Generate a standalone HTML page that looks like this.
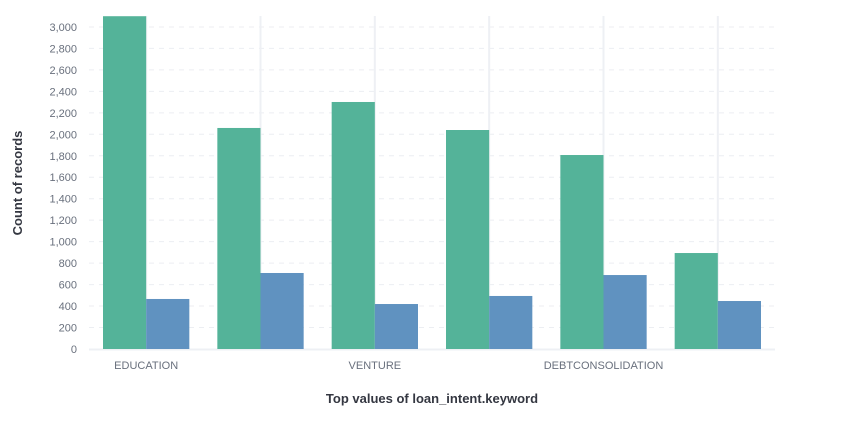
<!DOCTYPE html>
<html><head><meta charset="utf-8"><style>
body{margin:0;background:#fff;font-family:"Liberation Sans",sans-serif}
svg text{font-family:"Liberation Sans",sans-serif}
</style></head><body>
<svg id="chart" width="847" height="416" xmlns="http://www.w3.org/2000/svg"></svg>
<script>
const categories=["EDUCATION","MEDICAL","VENTURE","PERSONAL","DEBTCONSOLIDATION","HOMEIMPROVEMENT"];
const showLabel=[true,false,true,false,true,false];
const seriesA=[3100,2059,2301,2040,1807,894];
const seriesB=[466,708,419,494,689,447];
const yTicks=[0,200,400,600,800,1000,1200,1400,1600,1800,2000,2200,2400,2600,2800,3000];
const NS="http://www.w3.org/2000/svg";
const svg=document.getElementById('chart');
const L=89,R=775,T=16,B=349,yMax=3102;
const y=v=>B-(Math.min(v,yMax)/yMax)*(B-T);
const bw=(R-L)/categories.length;
const x=i=>L+i*bw;
function mk(t,a,p){const e=document.createElementNS(NS,t);for(const k in a)e.setAttribute(k,a[k]);(p||svg).appendChild(e);return e;}
yTicks.forEach(v=>{
  if(v>0){const g=mk('line',{x1:L,x2:R,y1:y(v),y2:y(v),stroke:'#eceef2','stroke-dasharray':'5,5'});
  
  }
  const t=mk('text',{x:77,y:y(v)+4,'text-anchor':'end','font-size':'11',fill:'#69707d'});t.textContent=v.toLocaleString('en-US');
  
  
});
categories.forEach((c,i)=>{
  const cx=x(i)+bw/2;
  const g=mk('line',{x1:cx,x2:cx,y1:T,y2:B,stroke:'#eef0f4','stroke-width':2});
  
  
});
const base=mk('line',{x1:L,x2:R,y1:B+0.5,y2:B+0.5,stroke:'#eef0f4','stroke-width':2});


categories.forEach((c,i)=>{
  const x0=x(i)+bw*0.1225, w=bw*0.3775;
  const a=mk('rect',{x:x0,y:y(seriesA[i]),width:w,height:B-y(seriesA[i]),fill:'#54b399'});
  
  
  const b=mk('rect',{x:x0+w,y:y(seriesB[i]),width:w,height:B-y(seriesB[i]),fill:'#6092c0'});
  
  
  if(showLabel[i]){const t=mk('text',{x:x(i)+bw/2,y:369,'text-anchor':'middle','font-size':'11',fill:'#69707d'});t.textContent=c;
  
  }
});
const xt=mk('text',{x:432,y:403,'text-anchor':'middle','font-size':'13','font-weight':'bold',fill:'#343741'});xt.textContent='Top values of loan_intent.keyword';


const yt=mk('text',{x:0,y:0,'text-anchor':'middle','font-size':'13','font-weight':'bold',fill:'#343741',transform:'translate(22,183) rotate(-90)'});yt.textContent='Count of records';


</script>
</body></html>
